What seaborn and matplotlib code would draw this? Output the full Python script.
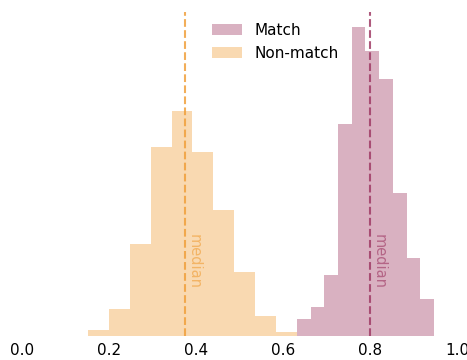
import numpy as np
import pandas as pd
import matplotlib
matplotlib.use("Agg")
import matplotlib.pyplot as plt
from matplotlib.patches import Patch
import seaborn as sns

# Histogram densities per bin (bin edges start + fixed width)
nonmatch_start, nonmatch_width = 0.1513, 0.0481
nonmatch_density = [0.128, 0.599, 2.034, 4.208, 5.015, 4.096, 2.796, 1.428, 0.442, 0.083]
match_start, match_width = 0.632, 0.0315
match_density = [0.372, 0.646, 1.352, 4.715, 6.875, 6.340, 5.717, 3.185, 1.730, 0.817]

nonmatch_median = 0.375
match_median = 0.799

labels = ["Match", "Non-match"]
match_color = "#a03c66"
nonmatch_color = "#f0a03c"

sns.set_theme(style="white", context="notebook")
plt.rcParams["font.family"] = ["DejaVu Sans"]
plt.rcParams["text.color"] = "black"
plt.rcParams["xtick.color"] = "black"

fig = plt.figure(figsize=(4.67, 3.6), dpi=100)
ax = fig.add_axes([22 / 467, 1 - 335.7 / 360, 435 / 467, 323.7 / 360])


def hist(start, width, dens, color):
    n = len(dens)
    centers = start + width * (np.arange(n) + 0.5)
    df = pd.DataFrame({"x": centers, "w": dens})
    sns.histplot(data=df, x="x", weights="w", bins=n,
                 binrange=(start, start + n * width), stat="count",
                 color=color, alpha=0.4, linewidth=0, ax=ax)


hist(nonmatch_start, nonmatch_width, nonmatch_density, nonmatch_color)
hist(match_start, match_width, match_density, match_color)

for med, col in [(nonmatch_median, nonmatch_color), (match_median, match_color)]:
    ax.axvline(med, color=col, linestyle="--", linewidth=1.5, alpha=0.85)
    ax.text(med + 0.004, 0.228, "median", rotation=270, color=col, alpha=0.65,
            fontsize=10.5, ha="left", va="center",
            transform=ax.get_xaxis_transform())

ax.set_xlim(0, 1)
ax.set_xticks([0.0, 0.2, 0.4, 0.6, 0.8, 1.0])
ax.set_yticks([])
ax.set_xlabel("")
ax.set_ylabel("")
ax.tick_params(axis="x", length=0, pad=5)
sns.despine(ax=ax, left=True, bottom=True)

handles = [Patch(facecolor=match_color, alpha=0.4, edgecolor="none"),
           Patch(facecolor=nonmatch_color, alpha=0.4, edgecolor="none")]
ax.legend(handles, labels, loc="upper left", bbox_to_anchor=(0.405, 1.008),
          frameon=False)

fig.savefig("out.png", dpi=100)
